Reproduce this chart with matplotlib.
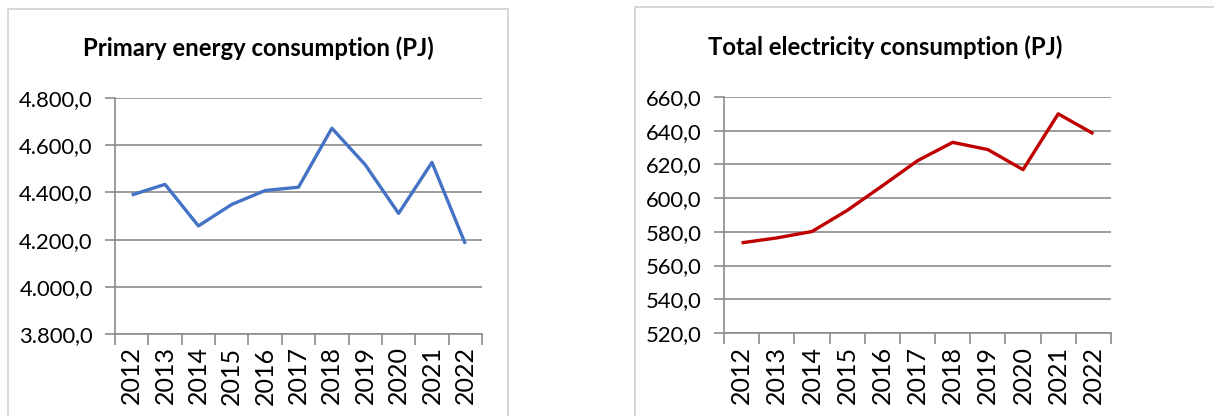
import matplotlib
matplotlib.use("Agg")
import matplotlib.pyplot as plt
from matplotlib.patches import Rectangle
from matplotlib.ticker import FuncFormatter, MultipleLocator

years = ["2012", "2013", "2014", "2015", "2016", "2017", "2018", "2019", "2020", "2021", "2022"]
primary_energy = [4389, 4434, 4258, 4349, 4408, 4422, 4672, 4517, 4311, 4527, 4182]
electricity = [573.5, 576.4, 580.2, 592.7, 607.3, 622.2, 633.1, 628.8, 616.9, 650.0, 638.2]

W, H = 1214, 416
fig = plt.figure(figsize=(W / 100, H / 100), dpi=100)
FONT = "Lato"
GRID = "#8c8c8c"


def fmt(v, _):
    s = f"{v:,.1f}"
    return s.replace(",", "X").replace(".", ",").replace("X", ".")


def panel(x0, y0, x1, y1):
    fig.add_artist(Rectangle((x0 / W, 1 - y1 / H), (x1 - x0) / W, (y1 - y0) / H,
                             transform=fig.transFigure, fill=False,
                             edgecolor="#d0d0d0", lw=1.2))


def chart(px0, py0, px1, py1, values, color, ylim, step, title, tx, ty):
    ax = fig.add_axes([px0 / W, 1 - py1 / H, (px1 - px0) / W, (py1 - py0) / H])
    x = list(range(len(years)))
    ax.plot(x, values, color=color, lw=2.4, solid_capstyle="butt", zorder=3)
    ax.set_xlim(-0.5, len(years) - 0.5)
    ax.set_ylim(*ylim)
    ax.yaxis.set_major_locator(MultipleLocator(step))
    ax.yaxis.set_major_formatter(FuncFormatter(fmt))
    ax.grid(axis="y", color=GRID, lw=1.2)
    ax.set_axisbelow(True)
    for s in ["top", "right"]:
        ax.spines[s].set_visible(False)
    for s in ["left", "bottom"]:
        ax.spines[s].set_color(GRID)
        ax.spines[s].set_linewidth(1.2)
    ax.set_xticks(x)
    ax.set_xticklabels(years, rotation=90, fontsize=18, family=FONT)
    ax.set_xticks([i - 0.5 for i in range(len(years) + 1)], minor=True)
    ax.tick_params(axis="x", which="major", length=0, pad=9)
    ax.tick_params(axis="x", which="minor", length=8, color=GRID, width=1.2)
    ax.tick_params(axis="y", length=7, color=GRID, width=1.2, pad=9, labelsize=15.8)
    for lab in ax.get_yticklabels():
        lab.set_family(FONT)
    fig.text(tx / W, 1 - ty / H, title, ha="center", va="center",
             fontsize=17.2, fontweight="bold", family=FONT)
    return ax


panel(8, 9, 508, 430)
panel(635, 7, 1230, 430)

chart(115, 98, 482, 334, primary_energy, "#4472C4", (3800, 4800), 200,
      "Primary energy consumption (PJ)", 258, 48)
chart(724, 97, 1111, 333, electricity, "#C00000", (520, 660), 20,
      "Total electricity consumption (PJ)", 885, 47)

fig.savefig("out.png", dpi=100, facecolor="white")
